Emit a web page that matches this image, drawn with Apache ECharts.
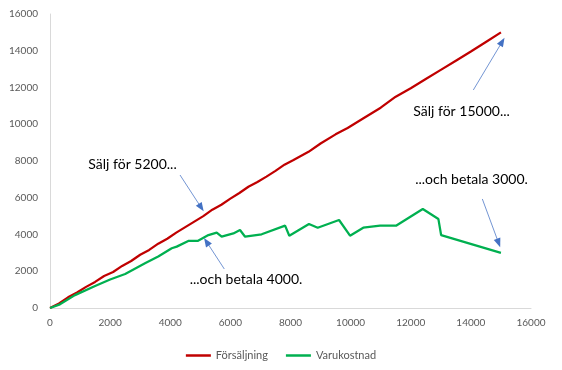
<!DOCTYPE html>
<html>
<head>
<meta charset="utf-8">
<script src="https://cdn.jsdelivr.net/npm/echarts@6/dist/echarts.min.js"></script>
<style>html,body{margin:0;padding:0;background:#fff}#c{width:562px;height:370px}</style>
</head>
<body>
<div id="c"></div>
<script>
// Data
const seriesNames = ['Försäljning', 'Varukostnad'];
const seriesColors = ['#C00000', '#00B050'];
const salesData = [[0,0],[300,250],[600,580],[900,840],[1200,1150],[1500,1420],[1800,1740],[2100,1960],[2400,2290],[2700,2560],[3000,2900],[3300,3160],[3600,3500],[3900,3770],[4200,4100],[4500,4400],[4800,4700],[5100,5000],[5400,5350],[5700,5620],[6000,5950],[6300,6260],[6600,6600],[6900,6860],[7200,7150],[7500,7460],[7800,7800],[8100,8060],[8600,8500],[9000,8950],[9500,9450],[9900,9800],[10400,10300],[11000,10900],[11500,11500],[12000,11960],[12500,12460],[13000,12960],[13500,13460],[14000,13960],[14500,14480],[15000,15000]];
const costData = [[0,0],[330,200],[830,700],[1500,1200],[2000,1550],[2500,1850],[3160,2430],[3600,2800],[4050,3250],[4215,3340],[4600,3650],[4910,3650],[5270,3970],[5545,4100],[5710,3880],[6100,4060],[6320,4245],[6490,3880],[7040,4010],[7820,4480],[7960,3935],[8615,4570],[8905,4370],[9615,4790],[9980,3935],[10420,4370],[10980,4480],[11510,4480],[12400,5390],[12920,4840],[13010,3970],[15000,3000]];
const annotationTexts = ['Sälj för 5200...', 'Sälj för 15000...', '...och betala 3000.', '...och betala 4000.'];
const annotationTextPos = [[2745,7837],[13690,10721],[14022,7020],[6520,1578]];
const arrowStarts = [[4325,7238],[14082,11864],[14381,5932],[5798,2122]];
const arrowEnds = [[5030,5464],[15043,14493],[14923,3537],[5206,3608]];
const axisMin = 0, axisMax = 16000, axisStep = 2000;

const chart = echarts.init(document.getElementById('c'), null, {renderer:'canvas'});
const labelFont = {color:'#595959', fontSize:10, fontFamily:'Lato', formatter:v=>String(v)};
const axisBase = {
  type:'value', min:axisMin, max:axisMax, interval:axisStep,
  axisLine:{show:true, lineStyle:{color:'#D9D9D9', width:1}},
  axisTick:{show:false}, splitLine:{show:false}
};
chart.setOption({
  animation:false,
  grid:{left:50, right:31, top:14, bottom:62, containLabel:false},
  legend:{
    data:seriesNames.map((n,i)=>({name:n, icon:'rect', itemStyle:{color:seriesColors[i], borderWidth:0}})),
    left:'center', top:345, itemWidth:25, itemHeight:2.5, itemGap:18,
    textStyle:{color:'#595959', fontSize:11, fontFamily:'Lato'}
  },
  xAxis:Object.assign({}, axisBase, {axisLabel:Object.assign({}, labelFont, {margin:10})}),
  yAxis:Object.assign({}, axisBase, {axisLabel:Object.assign({}, labelFont, {margin:12})}),
  series:[
    {
      name:seriesNames[0], type:'line', data:salesData, symbol:'none',
      lineStyle:{color:seriesColors[0], width:2.25}, itemStyle:{color:seriesColors[0]},
      markLine:{
        silent:true, symbol:['none','triangle'], symbolSize:[7,9], animation:false,
        lineStyle:{color:'#4472C4', width:0.75, type:'solid'}, label:{show:false},
        emphasis:{disabled:true},
        data:arrowStarts.map((s,i)=>[{coord:s},{coord:arrowEnds[i]}])
      },
      markPoint:{
        silent:true, symbol:'circle', symbolSize:0,
        label:{show:true, position:'inside', color:'#000', fontSize:14, fontFamily:'Lato'},
        data:annotationTexts.map((t,i)=>({coord:annotationTextPos[i], value:t, label:{formatter:t}}))
      }
    },
    {
      name:seriesNames[1], type:'line', data:costData, symbol:'none',
      lineStyle:{color:seriesColors[1], width:2.25}, itemStyle:{color:seriesColors[1]}
    }
  ]
});
</script>
</body>
</html>
